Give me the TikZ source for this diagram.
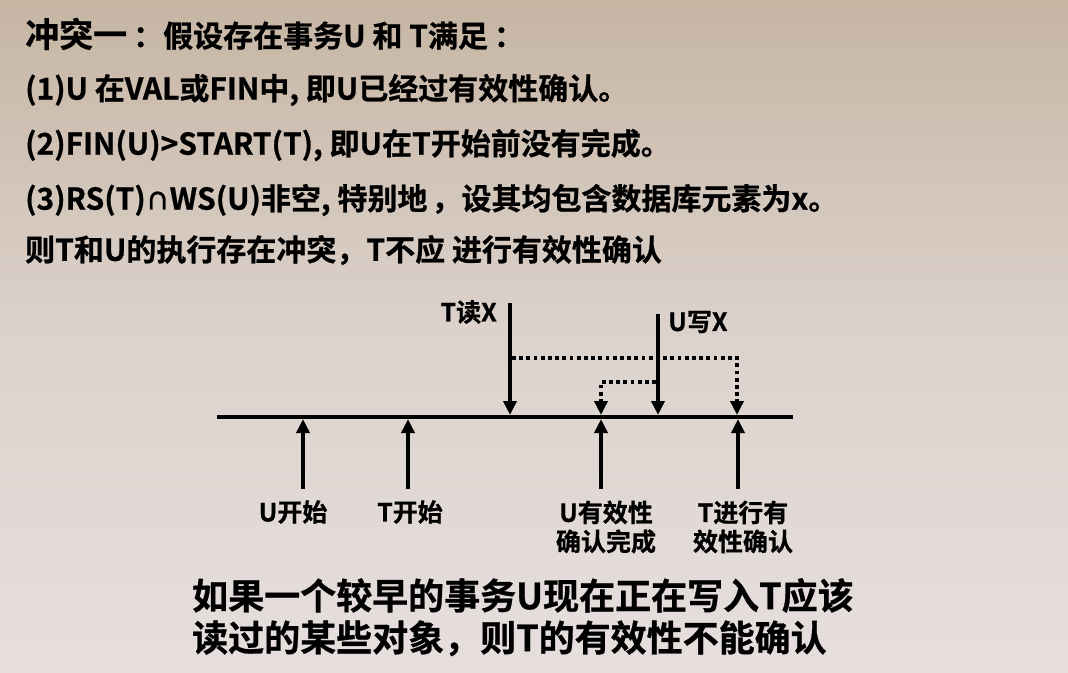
\documentclass[tikz,border=0pt]{standalone}
\usepackage{fontspec}
\newfontfamily\cjk[FakeBold=0.8]{Noto Sans CJK SC Bold}
\usetikzlibrary{arrows.meta}
\definecolor{bgtop}{HTML}{C6B5A3}
\definecolor{bgbot}{HTML}{E6DFDE}
\begin{document}
\begin{tikzpicture}[x=1pt,y=-1pt,
  txt/.style={font=\cjk\fontsize{30}{34}\selectfont, anchor=west, inner sep=0pt},
  lbl/.style={font=\cjk\fontsize{25}{29}\selectfont, inner sep=0pt, align=center},
  big/.style={font=\cjk\fontsize{36}{42}\selectfont, inner sep=0pt, align=left, anchor=north west},
  axis/.style={line width=3.6pt},
  arr/.style={line width=3.6pt, -{Triangle[width=13pt,length=14pt]}},
  dot/.style={line width=4pt, dash pattern=on 3.8pt off 3.4pt},
  dotarr/.style={dot, -{Triangle[width=13pt,length=14pt]}}]
\shade[top color=bgtop, bottom color=bgbot, middle color=bgbot!70!bgtop] (0,0) rectangle (1068,672);
\useasboundingbox (0,0) rectangle (1068,672);
% text block
\node[txt] (t0) at (25,34) {{\fontsize{34}{38}\selectfont 冲突一}\hspace{6pt}：假设存在事务U 和 T满足\hspace{6pt}：};
\node[txt] (t1) at (25,90) {(1)U 在VAL或FIN中, 即U已经过有效性确认。};
\node[txt] (t2) at (25,145) {(2)FIN(U)>START(T), 即U在T开始前没有完成。};
\node[txt] (t3) at (25,200) {(3)RS(T){\fontsize{24}{26}\selectfont ∩}WS(U)非空, 特别地\hspace{4pt}，设其均包含数据库元素为x。};
\node[txt] (t4) at (25,250) {则T和U的执行存在冲突，T不应 进行有效性确认};
% axis
\coordinate (L) at (217,417);
\coordinate (R) at (793,417);
\draw[axis] (L) -- (R);
% up arrows
\coordinate (u1s) at (303,489); \coordinate (u1e) at (303,419);
\coordinate (u2s) at (408,489); \coordinate (u2e) at (408,419);
\coordinate (u3s) at (601,489); \coordinate (u3e) at (601,419);
\coordinate (u4s) at (738,489); \coordinate (u4e) at (738,419);
\draw[arr] (u1s) -- (u1e);
\draw[arr] (u2s) -- (u2e);
\draw[arr] (u3s) -- (u3e);
\draw[arr] (u4s) -- (u4e);
% down arrows
\coordinate (d1s) at (510,303); \coordinate (d1e) at (510,415);
\coordinate (d2s) at (658,314); \coordinate (d2e) at (658,415);
\draw[arr] (d1s) -- (d1e);
\draw[arr] (d2s) -- (d2e);
% dotted
\coordinate (p1) at (512,358); \coordinate (p2) at (737,358); \coordinate (p3) at (737,415);
\coordinate (q1) at (656,382); \coordinate (q2) at (601,382); \coordinate (q3) at (601,415);
\draw[dotarr] (p1) -- (p2) -- (p3);
\draw[dotarr] (q1) -- (q2) -- (q3);
% labels
\node[lbl, anchor=east] (lr) at (497,312) {T读X};
\node[lbl, anchor=west] (lw) at (668,322) {U写X};
\node[lbl] (l1) at (293,512) {U开始};
\node[lbl] (l2) at (410,512) {T开始};
\node[lbl] (l3) at (606,527) {U有效性\\确认完成};
\node[lbl] (l4) at (743,527) {T进行有\\效性确认};
% bottom text
\node[big] (b) at (192,578) {如果一个较早的事务U现在正在写入T应该\\读过的某些对象，则T的有效性不能确认};
\end{tikzpicture}
\end{document}
